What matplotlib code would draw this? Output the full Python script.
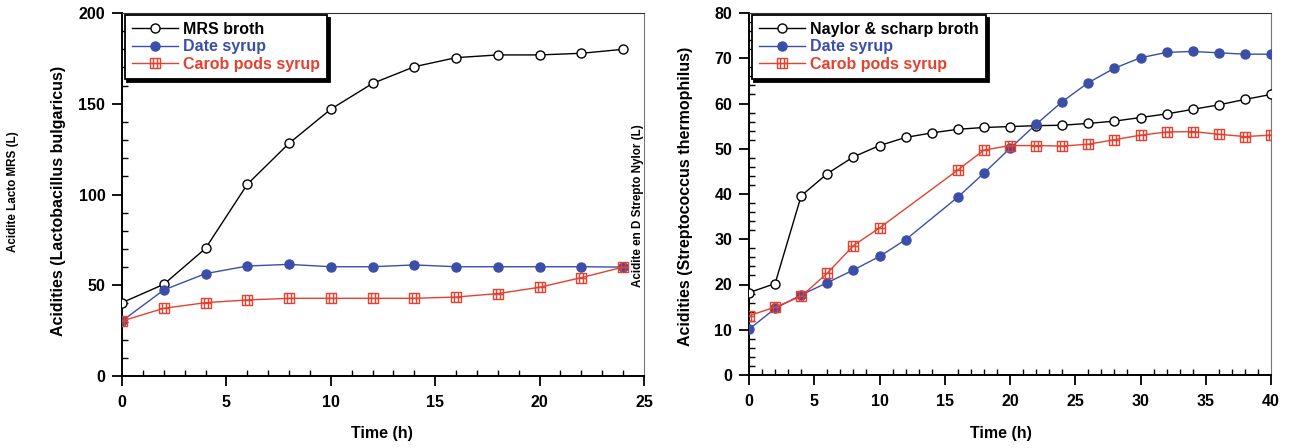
import matplotlib
matplotlib.use("Agg")
import matplotlib.pyplot as plt
from matplotlib.path import Path
from matplotlib.ticker import MultipleLocator

# ---------------- data ----------------
# Left panel: Lactobacillus bulgaricus
t_left = [0, 2, 4, 6, 8, 10, 12, 14, 16, 18, 20, 22, 24]
mrs_broth = [40.4, 50.5, 70.3, 105.6, 128.2, 147.0, 161.2, 170.4, 175.4, 176.9, 176.9, 177.8, 180.0]
date_left = [30.3, 47.4, 56.4, 60.6, 61.5, 60.2, 60.2, 61.2, 60.2, 60.2, 60.2, 60.2, 60.0]
carob_left = [30.3, 37.3, 40.4, 41.9, 42.8, 42.8, 42.8, 42.8, 43.5, 45.4, 48.9, 54.2, 60.0]

# Right panel: Streptococcus thermophilus
t_naylor = [0, 2, 4, 6, 8, 10, 12, 14, 16, 18, 20, 22, 24, 26, 28, 30, 32, 34, 36, 38, 40]
naylor = [18.2, 20.2, 39.6, 44.5, 48.2, 50.7, 52.5, 53.5, 54.3, 54.7, 54.9, 55.1, 55.2,
          55.6, 56.1, 56.9, 57.7, 58.7, 59.7, 60.9, 62.0]
t_date_r = [0, 2, 4, 6, 8, 10, 12, 16, 18, 20, 22, 24, 26, 28, 30, 32, 34, 36, 38, 40]
date_right = [10.1, 14.7, 17.7, 20.4, 23.2, 26.2, 29.9, 39.3, 44.6, 50.1, 55.4, 60.4,
              64.6, 67.8, 70.1, 71.3, 71.5, 71.2, 70.9, 70.9]
t_carob_r = [0, 2, 4, 6, 8, 10, 16, 18, 20, 22, 24, 26, 28, 30, 32, 34, 36, 38, 40]
carob_right = [13.1, 15.0, 17.4, 22.5, 28.6, 32.5, 45.3, 49.7, 50.7, 50.7, 50.6, 51.0,
               52.0, 53.0, 53.7, 53.8, 53.2, 52.7, 53.0]

labels_left = ["MRS broth", "Date syrup", "Carob pods syrup"]
labels_right = ["Naylor & scharp broth", "Date syrup", "Carob pods syrup"]

# ---------------- style ----------------
plt.rcParams['font.family'] = ['Liberation Sans', 'DejaVu Sans']
BLACK = "#000000"
BLUE = "#3b4ea8"
RED = "#e6402e"

# grid-square marker (square split by 1 horizontal and 2 vertical lines)
verts = [(-1, -1), (1, -1), (1, 1), (-1, 1), (-1, -1),
         (-1, 0), (1, 0),
         (-1/3, -1), (-1/3, 1),
         (1/3, -1), (1/3, 1)]
codes = [Path.MOVETO, Path.LINETO, Path.LINETO, Path.LINETO, Path.CLOSEPOLY,
         Path.MOVETO, Path.LINETO,
         Path.MOVETO, Path.LINETO,
         Path.MOVETO, Path.LINETO]
grid_sq = Path(verts, codes)

fig = plt.figure(figsize=(12.9, 4.48), dpi=100)
W, H = 1290, 448
axL = fig.add_axes([122 / W, 1 - 376 / H, (644 - 122) / W, (376 - 13) / H])
axR = fig.add_axes([749 / W, 1 - 375 / H, (1271 - 749) / W, (375 - 13) / H])


def style_axes(ax, xmax, xmajor, ymax, ymajor, yminor):
    ax.set_xlim(0, xmax)
    ax.set_ylim(0, ymax)
    ax.xaxis.set_major_locator(MultipleLocator(xmajor))
    ax.xaxis.set_minor_locator(MultipleLocator(1))
    ax.yaxis.set_major_locator(MultipleLocator(ymajor))
    ax.yaxis.set_minor_locator(MultipleLocator(yminor))
    ax.tick_params(which='major', direction='out', length=7, width=1.3,
                   labelsize=11.5, pad=5)
    ax.tick_params(which='minor', direction='in', length=4, width=1.0)
    ax.tick_params(axis='x', which='major', pad=7)
    for lab in ax.get_xticklabels() + ax.get_yticklabels():
        lab.set_fontweight('bold')
    ax.spines['left'].set_linewidth(1.4)
    ax.spines['bottom'].set_linewidth(1.4)
    ax.spines['top'].set_linewidth(0.8)
    ax.spines['top'].set_color('#333333')
    ax.spines['right'].set_linewidth(0.8)
    ax.spines['right'].set_color('#777777')


def plot_series(ax, x1, y1, x2, y2, x3, y3, labels):
    ax.plot(x1, y1, color=BLACK, lw=1.0, marker='o', ms=6.5, mfc='white',
            mec=BLACK, mew=1.0, label=labels[0], zorder=3)
    ax.plot(x2, y2, color=BLUE, lw=1.0, marker='o', ms=6.5, mfc=BLUE,
            mec=BLUE, label=labels[1], zorder=4)
    ax.plot(x3, y3, color=RED, lw=1.0, marker=grid_sq, ms=7.5, mfc='none',
            mec=RED, mew=1.0, label=labels[2], zorder=5)
    leg = ax.legend(loc='upper left', bbox_to_anchor=(0.005, 0.995),
                    borderaxespad=0, fancybox=False, framealpha=1,
                    edgecolor='black', handlelength=2.9, handletextpad=0.3,
                    labelspacing=0.15, borderpad=0.45,
                    prop={'weight': 'bold', 'size': 11.5},
                    shadow={'color': 'black', 'alpha': 1})
    leg.get_frame().set_linewidth(1.3)
    for txt, c in zip(leg.get_texts(), [BLACK, BLUE, RED]):
        txt.set_color(c)
    return leg


plot_series(axL, t_left, mrs_broth, t_left, date_left, t_left, carob_left, labels_left)
style_axes(axL, 25, 5, 200, 50, 10)

plot_series(axR, t_naylor, naylor, t_date_r, date_right, t_carob_r, carob_right, labels_right)
style_axes(axR, 40, 5, 80, 10, 2)

# axis labels
fig.text(58 / W, 1 - 201 / H, "Acidities (Lactobacillus bulgaricus)", rotation=90,
         ha='center', va='center', fontsize=11.5, fontweight='bold')
fig.text(685 / W, 1 - 196 / H, "Acidities (Streptococcus thermophilus)", rotation=90,
         ha='center', va='center', fontsize=11.5, fontweight='bold')
fig.text(382 / W, 1 - 433 / H, "Time (h)", ha='center', va='center',
         fontsize=11.5, fontweight='bold')
fig.text(1001 / W, 1 - 433 / H, "Time (h)", ha='center', va='center',
         fontsize=11.5, fontweight='bold')

# small side annotations
fig.text(13 / W, 1 - 192 / H, "Acidite Lacto MRS (L)", rotation=90,
         ha='center', va='center', fontsize=8.4, fontweight='bold')
fig.text(638 / W, 1 - 206 / H, "Acidite en D Strepto Nylor (L)", rotation=90,
         ha='center', va='center', fontsize=8.4, fontweight='bold')

fig.savefig("out.png", dpi=100)
